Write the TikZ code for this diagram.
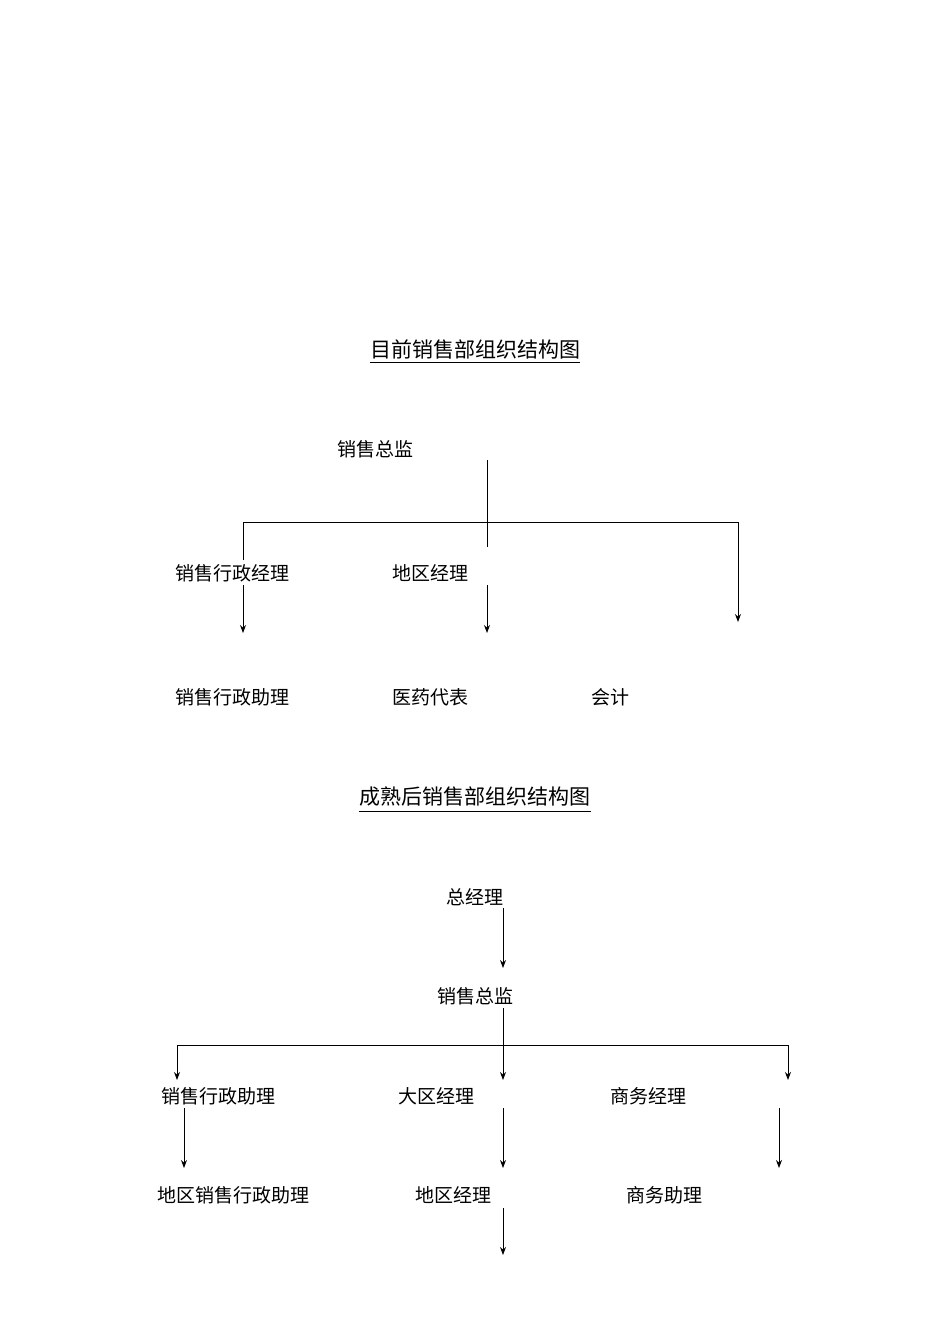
\documentclass[tikz,border=0pt]{standalone}
\usepackage{fontspec}
\setmainfont{Noto Sans CJK SC}
\usetikzlibrary{arrows.meta}
\begin{document}
\begin{tikzpicture}[x=1pt,y=-1pt,
  lbl/.style={font=\fontsize{19}{19}\selectfont, inner sep=0pt},
  ttl/.style={font=\fontsize{21}{21}\selectfont, inner sep=0pt},
  ln/.style={line width=0.9pt},
  arr/.style={line width=0.9pt,-{Stealth[length=8pt,width=6pt]}}]
\useasboundingbox (0,0) rectangle (950,1344);
% top chart
\node[ttl] (t1) at (475,349) {目前销售部组织结构图};
\draw[ln] (t1.south west)++(0,4) coordinate (u1a) -- (u1a -| t1.south east);
\node[lbl] (a) at (375,449) {销售总监};
\node[lbl] (b) at (232,573) {销售行政经理};
\node[lbl] (c) at (430,573) {地区经理};
\node[lbl] (d) at (232,697) {销售行政助理};
\node[lbl] (e) at (430,697) {医药代表};
\node[lbl] (f) at (610,697) {会计};
\coordinate (v1) at (487,460); \coordinate (v2) at (487,547);
\coordinate (hl) at (243,522); \coordinate (hr) at (738,522);
\draw[ln] (v1) -- (v2);
\draw[ln] (243,560) coordinate (l1) -- (hl) -- (hr);
\draw[arr] (hr) -- (738,622) coordinate (r1);
\draw[arr] (243,585) coordinate (l2) -- (243,633) coordinate (l3);
\draw[arr] (487,585) coordinate (m2) -- (487,633) coordinate (m3);
% bottom chart
\node[ttl] (t2) at (475,797) {成熟后销售部组织结构图};
\draw[ln] (t2.south west)++(0,4) coordinate (u2a) -- (u2a -| t2.south east);
\node[lbl] (g) at (475,897) {总经理};
\node[lbl] (h) at (475,996) {销售总监};
\node[lbl] (i) at (218,1096) {销售行政助理};
\node[lbl] (j) at (436,1096) {大区经理};
\node[lbl] (k) at (648,1096) {商务经理};
\node[lbl] (m) at (233,1195) {地区销售行政助理};
\node[lbl] (n) at (453,1195) {地区经理};
\node[lbl] (o) at (664,1195) {商务助理};
\draw[arr] (503,908) coordinate (p1) -- (503,968) coordinate (p2);
\draw[arr] (503,1008) coordinate (p3) -- (503,1080) coordinate (p4);
\coordinate (q1) at (177,1045); \coordinate (q2) at (788,1045);
\draw[ln] (q1) -- (q2);
\draw[arr] (q1) -- (177,1080) coordinate (q3);
\draw[arr] (q2) -- (788,1080) coordinate (q4);
\draw[arr] (184,1108) coordinate (s1) -- (184,1168) coordinate (s2);
\draw[arr] (503,1108) coordinate (s3) -- (503,1168) coordinate (s4);
\draw[arr] (779,1108) coordinate (s5) -- (779,1168) coordinate (s6);
\draw[arr] (503,1208) coordinate (s7) -- (503,1255) coordinate (s8);
\end{tikzpicture}
\end{document}
